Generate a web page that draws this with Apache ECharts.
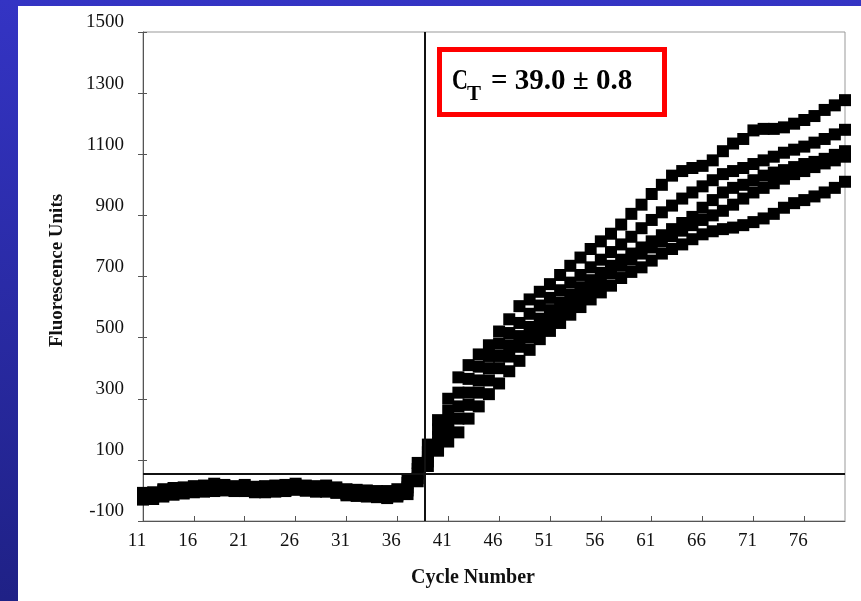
<!DOCTYPE html>
<html>
<head>
<meta charset="utf-8">
<script src="https://cdn.jsdelivr.net/npm/echarts@6/dist/echarts.min.js"></script>
<style>
html,body{margin:0;padding:0;width:861px;height:601px;overflow:hidden;}
#chart{width:861px;height:601px;}
</style>
</head>
<body>
<div id="chart"></div>
<script>
const cycles = [11,12,13,14,15,16,17,18,19,20,21,22,23,24,25,26,27,28,29,30,
  31,32,33,34,35,36,37,38,39,40,41,42,43,44,45,46,47,48,49,50,
  51,52,53,54,55,56,57,58,59,60,61,62,63,64,65,66,67,68,69,70,
  71,72,73,74,75,76,77,78,79,80];

const wellA = [-8,-6,4,8,10,14,16,22,18,14,18,12,14,16,18,22,16,14,16,10,4,2,0,-2,-2,4,36,
  90,150,230,300,370,410,445,475,520,560,603,625,650,675,705,735,762,790,815,840,
  870,905,935,970,1000,1030,1045,1055,1062,1080,1110,1135,1150,1178,1183,1183,1188,1200,1212,1225,
  1245,1260,1277];
const wellB = [-12,-10,0,4,6,8,10,14,12,10,12,8,8,10,12,16,12,10,10,6,0,-2,-4,-6,-8,-2,24,
  70,125,200,260,320,365,405,440,480,515,548,578,605,630,655,680,705,730,755,780,
  805,830,858,885,910,932,955,975,995,1015,1035,1045,1055,1068,1080,1092,1105,1115,1125,1138,
  1150,1165,1180];
const wellC = [-20,-18,-8,-4,-2,2,4,8,6,4,6,2,2,4,6,10,6,4,2,-2,-8,-10,-12,-14,-16,-12,10,
  55,110,175,225,275,320,360,400,440,475,505,535,562,590,615,640,665,688,712,735,
  755,775,795,815,835,855,875,895,925,950,975,990,1000,1015,1030,1040,1048,1058,1068,1075,
  1085,1098,1110];
const wellD = [-25,-22,-14,-8,-6,-2,0,4,2,0,2,-2,-2,0,2,6,2,0,-2,-4,-12,-14,-16,-18,-20,-16,0,
  40,95,155,195,235,280,320,360,400,438,470,500,530,558,585,610,635,660,685,710,
  735,755,775,795,815,832,850,868,885,900,915,935,955,975,990,1005,1020,1035,1045,1058,
  1070,1080,1092];
const wellE = [-30,-28,-20,-14,-10,-6,-4,-2,0,-2,-2,-6,-6,-4,-2,2,-1,-4,-4,-8,-16,-18,-20,-22,-25,-20,-12,
  30,80,130,160,190,235,275,315,350,390,424,460,495,522,548,575,600,625,648,670,
  695,715,730,752,775,790,805,822,838,848,855,860,868,878,890,905,925,940,950,962,
  975,990,1010];

const xTicks = [11,16,21,26,31,36,41,46,51,56,61,66,71,76];
const yTicks = [-100,100,300,500,700,900,1100,1300,1500];
const ctCycle = 38.7;
const thresholdValue = 54;
const ctText = ['C', 'T', '= 39.0 \u00b1 0.8'];

const serif = "'Liberation Serif','Times New Roman',serif";
const chart = echarts.init(document.getElementById('chart'), null, {renderer: 'canvas'});

const wells = [wellA, wellB, wellC, wellD, wellE];
const series = wells.map((w) => ({
  type: 'scatter',
  symbol: 'rect',
  symbolSize: 12,
  itemStyle: {color: '#000', opacity: 1},
  silent: true,
  z: 3,
  data: cycles.map((c, i) => [c, w[i]])
}));
series[0].markLine = {
  silent: true,
  symbol: 'none',
  label: {show: false},
  lineStyle: {color: '#111', width: 2, type: 'solid'},
  data: [{xAxis: ctCycle}, {yAxis: thresholdValue}],
  z: 4
};

chart.setOption({
  animation: false,
  backgroundColor: 'transparent',
  graphic: [
    {type: 'rect', z: -10, shape: {x: 0, y: 0, width: 861, height: 601},
     style: {fill: new echarts.graphic.LinearGradient(0, 0, 0, 1, [
       {offset: 0, color: '#3434C4'}, {offset: 1, color: '#1F2186'}])}},
    {type: 'rect', z: -9, shape: {x: 18, y: 6, width: 843, height: 595}, style: {fill: '#ffffff'}},
    {type: 'rect', z: 10, shape: {x: 439.5, y: 49.5, width: 225, height: 65},
     style: {fill: '#ffffff', stroke: '#FF0000', lineWidth: 5}},
    {type: 'text', z: 11, x: 452, y: 67, scaleX: 0.76,
     style: {text: ctText[0], font: 'bold 29px ' + serif, fill: '#000'}},
    {type: 'text', z: 11, x: 467, y: 84,
     style: {text: ctText[1], font: 'bold 21px ' + serif, fill: '#000'}},
    {type: 'text', z: 11, x: 491, y: 67,
     style: {text: ctText[2], font: 'bold 29px ' + serif, fill: '#000'}}
  ],
  grid: {left: 143, top: 32, right: 16, bottom: 80, show: true, borderColor: '#999', borderWidth: 1, backgroundColor: 'transparent'},
  xAxis: {
    type: 'value', min: 11, max: 80,
    name: 'Cycle Number', nameLocation: 'middle', nameGap: 47,
    nameTextStyle: {fontFamily: serif, fontWeight: 'bold', fontSize: 20, color: '#111', padding: [0, 42, 0, 0]},
    axisLine: {show: true, onZero: false, lineStyle: {color: '#555', width: 1}},
    axisTick: {show: true, inside: true, length: 5, customValues: xTicks, lineStyle: {color: '#555'}},
    axisLabel: {customValues: xTicks, fontFamily: serif, fontSize: 19, color: '#111', margin: 11, padding: [0, 12, 0, 0],
      formatter: (v) => String(v)},
    splitLine: {show: false}
  },
  yAxis: [{
    type: 'value', min: -100, max: 1500,
    name: 'Fluorescence Units', nameLocation: 'middle', nameGap: 76,
    nameTextStyle: {fontFamily: serif, fontWeight: 'bold', fontSize: 19, color: '#111', padding: [0, 0, 0, 12]},
    axisLine: {show: true, onZero: false, lineStyle: {color: '#555', width: 1}},
    axisTick: {show: true, length: 5, customValues: yTicks, lineStyle: {color: '#555'}},
    axisLabel: {customValues: yTicks, fontFamily: serif, fontSize: 19, color: '#111', margin: 19, verticalAlign: 'bottom',
      formatter: (v) => String(v)},
    splitLine: {show: false}
  }, {
    type: 'value', min: -100, max: 1500, position: 'left',
    axisLine: {show: false, onZero: false},
    axisTick: {show: true, inside: true, length: 4, customValues: yTicks, lineStyle: {color: '#555'}},
    axisLabel: {show: false},
    splitLine: {show: false}
  }],
  series: series
});
</script>
</body>
</html>
